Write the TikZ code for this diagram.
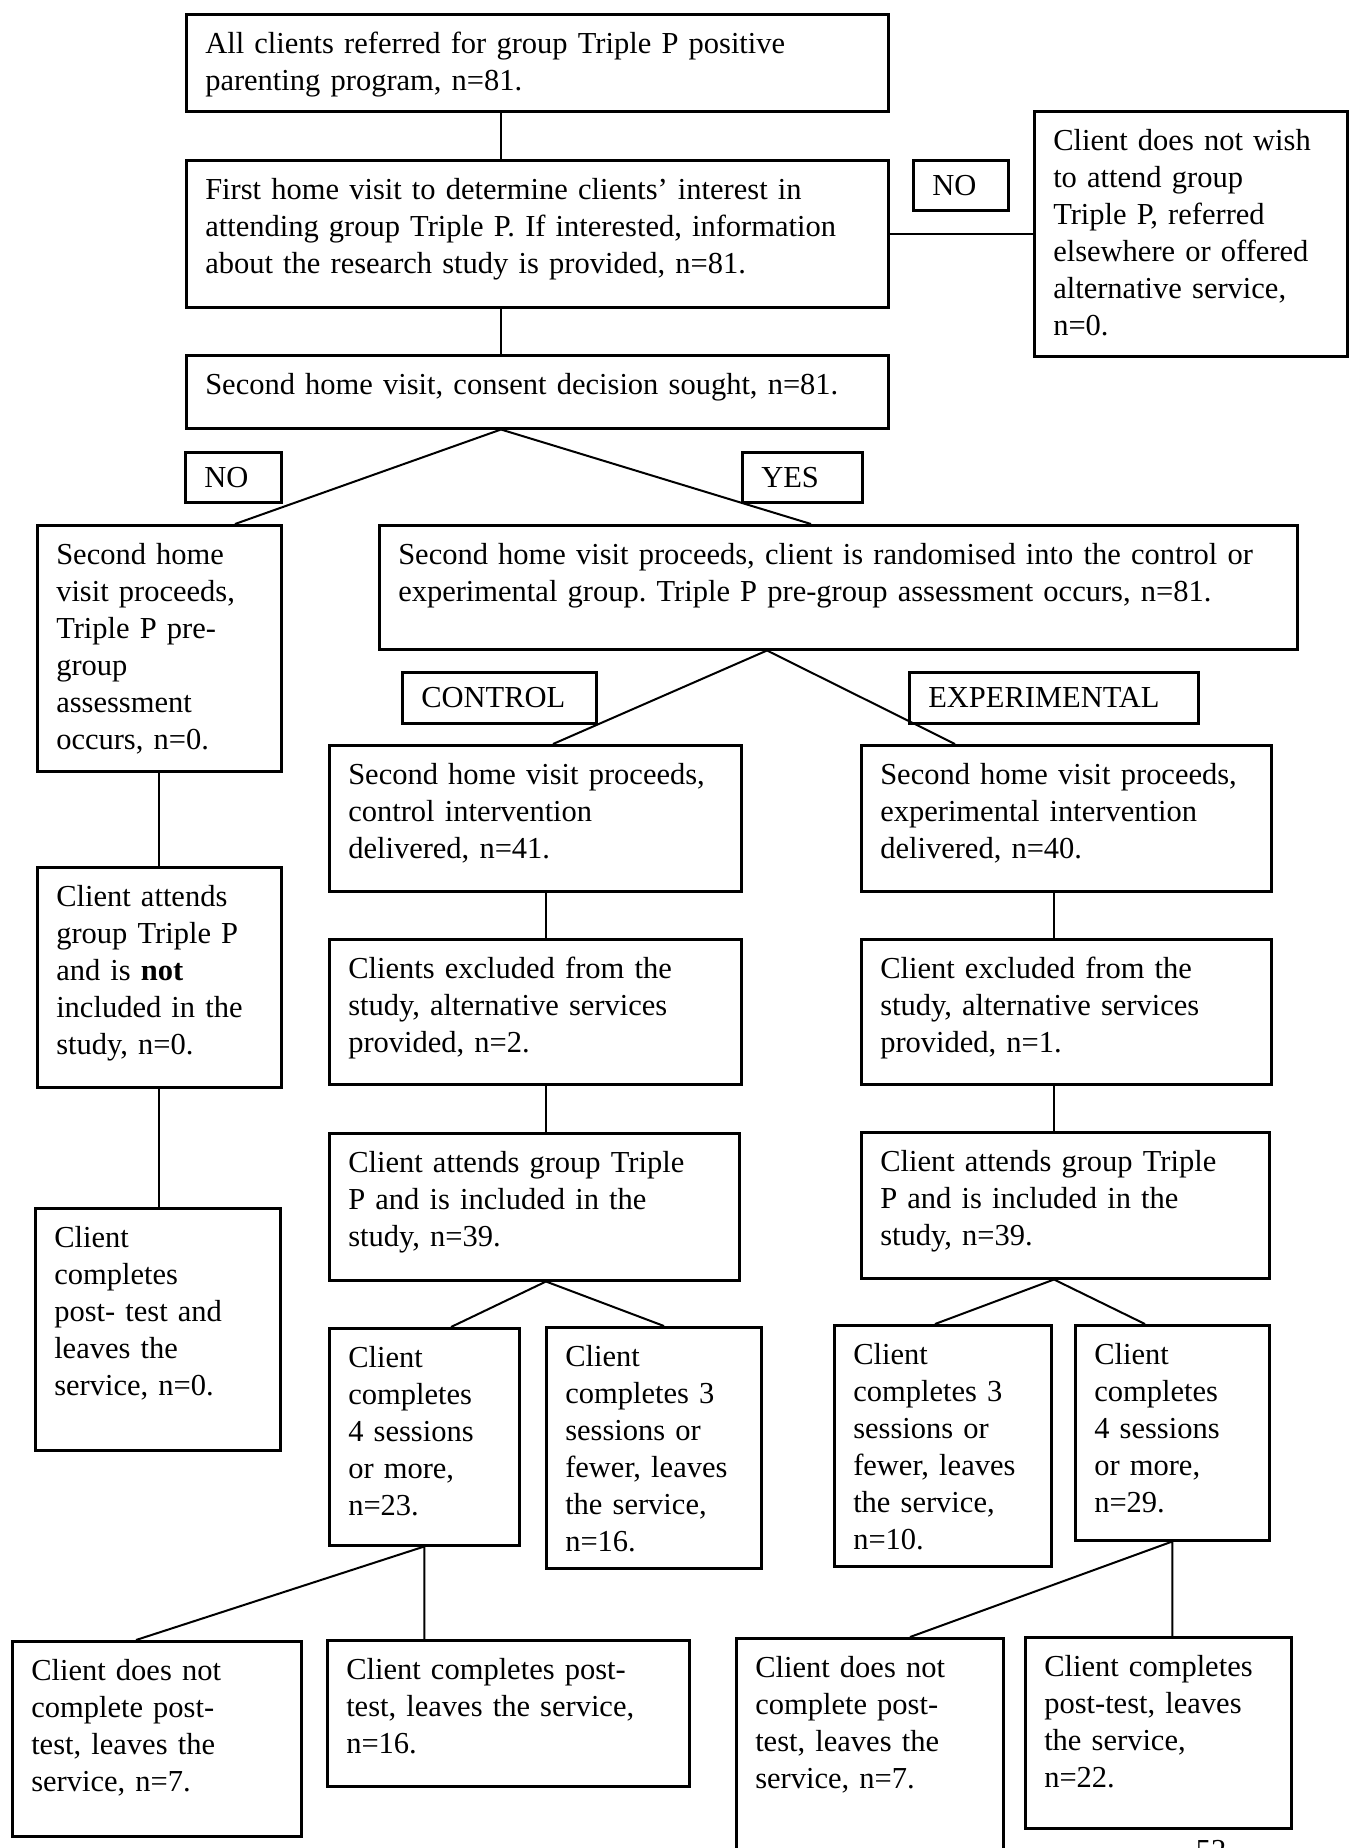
\documentclass[tikz,border=0pt]{standalone}
\usepackage{fontspec}
\setmainfont{Liberation Serif}
\frenchspacing
\newcommand\flowfont{\fontsize{30.5pt}{37pt}\selectfont\hyphenpenalty=10000}
\tikzset{
  flow_box/.style 2 args = {draw=black, line width=2.5pt, anchor=north west, align=left, inner xsep=19pt, inner ysep=10pt, text height=29pt, text width={#1-38}, text depth={#2-49}, font=\flowfont},
  flow_tag/.style 2 args = {draw=black, line width=2.5pt, anchor=north west, align=left, inner xsep=19pt, inner ysep=0pt, text width={#1-38}, minimum height=#2, font=\flowfont},
  flow_line/.style = {line width=2pt}
}
\begin{document}
\begin{tikzpicture}[x=1pt, y=-1pt]
	\useasboundingbox (0,0) rectangle (1349,1848);
	\fill[white] (0,0) rectangle (1349,1848);
	\coordinate (main_x) at (501,0);
	\coordinate (ctrl_x) at (546,0);
	\coordinate (exp_x) at (1054,0);

	\node[flow_box={702}{97}] (refer) at (185,13) {All clients referred for group Triple P positive\\parenting program, n=81.};
	\node[flow_box={702}{147}] (visit1) at (185,159) {First home visit to determine clients’ interest in\\attending group Triple P. If interested, information\\about the research study is provided, n=81.};
	\node[flow_tag={95}{50}] (no_a) at (912,159) {NO};
	\node[flow_box={313}{245}] (elsewhere) at (1033,110) {Client does not wish\\to attend group\\Triple P, referred\\elsewhere or offered\\alternative service,\\n=0.};
	\node[flow_box={702}{73}] (consent) at (185,354) {Second home visit, consent decision sought, n=81.};
	\node[flow_tag={96}{50}] (no_b) at (184,451) {NO};
	\node[flow_tag={120}{50}] (yes) at (741,451) {YES};
	\node[flow_box={244}{246}] (pre_no) at (36,524) {Second home\\visit proceeds,\\Triple P pre-\\group\\assessment\\occurs, n=0.};
	\node[flow_box={918}{124}] (random) at (378,524) {Second home visit proceeds, client is randomised into the control or\\experimental group. Triple P pre-group assessment occurs, n=81.};
	\node[flow_tag={194}{51}] (control) at (401,671) {CONTROL};
	\node[flow_tag={289}{51}] (experimental) at (908,671) {EXPERIMENTAL};
	\node[flow_box={412}{146}] (ctrl_visit) at (328,744) {Second home visit proceeds,\\control intervention\\delivered, n=41.};
	\node[flow_box={410}{146}] (exp_visit) at (860,744) {Second home visit proceeds,\\experimental intervention\\delivered, n=40.};
	\node[flow_box={244}{220}] (not_incl) at (36,866) {Client attends\\group Triple P\\and is \textbf{not}\\included in the\\study, n=0.};
	\node[flow_box={412}{145}] (ctrl_excl) at (328,938) {Clients excluded from the\\study, alternative services\\provided, n=2.};
	\node[flow_box={410}{145}] (exp_excl) at (860,938) {Client excluded from the\\study, alternative services\\provided, n=1.};
	\node[flow_box={410}{147}] (ctrl_attend) at (328,1132) {Client attends group Triple\\P and is included in the\\study, n=39.};
	\node[flow_box={408}{146}] (exp_attend) at (860,1131) {Client attends group Triple\\P and is included in the\\study, n=39.};
	\node[flow_box={245}{242}] (post_no) at (34,1207) {Client\\completes\\post- test and\\leaves the\\service, n=0.};
	\node[flow_box={190}{217}] (ctrl_more) at (328,1327) {Client\\completes\\4 sessions\\or more,\\n=23.};
	\node[flow_box={215}{241}] (ctrl_few) at (545,1326) {Client\\completes 3\\sessions or\\fewer, leaves\\the service,\\n=16.};
	\node[flow_box={217}{241}] (exp_few) at (833,1324) {Client\\completes 3\\sessions or\\fewer, leaves\\the service,\\n=10.};
	\node[flow_box={194}{215}] (exp_more) at (1074,1324) {Client\\completes\\4 sessions\\or more,\\n=29.};
	\node[flow_box={289}{195}] (ctrl_drop) at (11,1640) {Client does not\\complete post-\\test, leaves the\\service, n=7.};
	\node[flow_box={362}{146}] (ctrl_post) at (326,1639) {Client completes post-\\test, leaves the service,\\n=16.};
	\node[flow_box={267}{250}] (exp_drop) at (735,1637) {Client does not\\complete post-\\test, leaves the\\service, n=7.};
	\node[flow_box={266}{191}] (exp_post) at (1024,1636) {Client completes\\post-test, leaves\\the service,\\n=22.};
	\node[anchor=base, font=\flowfont] (page) at (1211,1860) {52};

	\draw[flow_line] (refer.south -| main_x) -- (visit1.north -| main_x);
	\draw[flow_line] (visit1.south -| main_x) -- (consent.north -| main_x);
	\draw[flow_line] (visit1.east) -- (elsewhere.west |- visit1.east);
	\draw[flow_line] ([xshift=199pt]pre_no.north west) -- (consent.south -| main_x) -- ([xshift=433pt]random.north west);
	\draw[flow_line] ([xshift=225pt]ctrl_visit.north west) -- ([xshift=389pt]random.south west) -- ([xshift=95pt]exp_visit.north west);
	\draw[flow_line] (pre_no.south) -- (not_incl.north);
	\draw[flow_line] (not_incl.south) -- (post_no.north -| not_incl.south);
	\draw[flow_line] (ctrl_visit.south -| ctrl_x) -- (ctrl_excl.north -| ctrl_x);
	\draw[flow_line] (ctrl_excl.south -| ctrl_x) -- (ctrl_attend.north -| ctrl_x);
	\draw[flow_line] (exp_visit.south -| exp_x) -- (exp_excl.north -| exp_x);
	\draw[flow_line] (exp_excl.south -| exp_x) -- (exp_attend.north -| exp_x);
	\draw[flow_line] ([xshift=123pt]ctrl_more.north west) -- (ctrl_attend.south -| ctrl_x) -- ([xshift=119pt]ctrl_few.north west);
	\draw[flow_line] ([xshift=102pt]exp_few.north west) -- (exp_attend.south -| exp_x) -- ([xshift=71pt]exp_more.north west);
	\draw[flow_line] ([xshift=125pt]ctrl_drop.north west) -- (ctrl_more.south) -- (ctrl_post.north -| ctrl_more.south);
	\draw[flow_line] ([xshift=175pt]exp_drop.north west) -- (exp_more.south) -- (exp_post.north -| exp_more.south);
\end{tikzpicture}
\end{document}
